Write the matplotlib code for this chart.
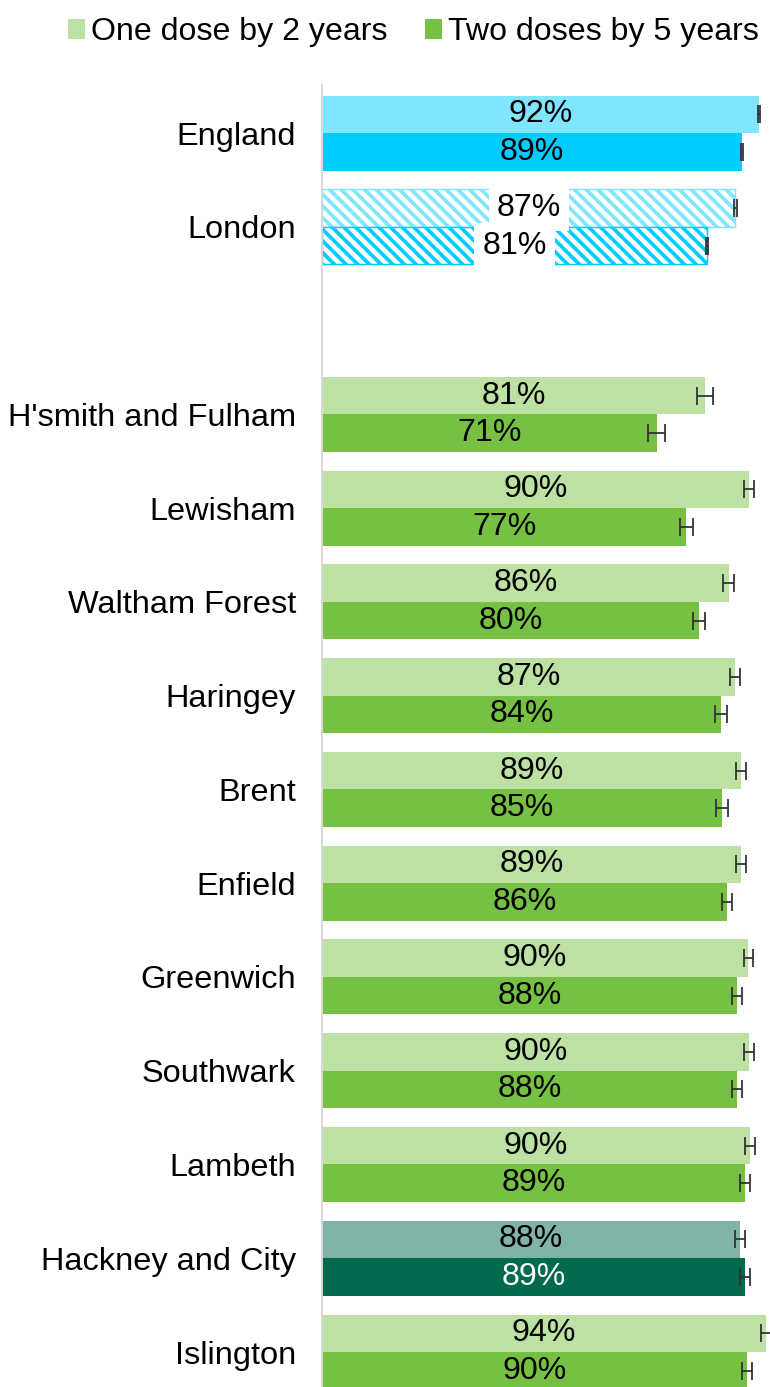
import numpy as np
import matplotlib

matplotlib.use("Agg")
import matplotlib.pyplot as plt
from matplotlib.patches import Patch

plt.rcParams["font.family"] = ["Liberation Sans", "DejaVu Sans"]
plt.rcParams["hatch.linewidth"] = 3.8

areas = [
    "England", "London", "H'smith and Fulham", "Lewisham", "Waltham Forest",
    "Haringey", "Brent", "Enfield", "Greenwich", "Southwark", "Lambeth",
    "Hackney and City", "Islington",
]
one_dose = [92.4, 87.4, 81.0, 90.3, 86.0, 87.4, 88.6, 88.6, 90.1, 90.3, 90.4, 88.4, 93.9]
two_doses = [88.8, 81.4, 70.8, 77.0, 79.7, 84.3, 84.6, 85.6, 87.7, 87.7, 89.4, 89.4, 89.9]
one_err = [0.15, 0.3, 1.7, 1.0, 1.2, 1.05, 1.05, 1.05, 0.95, 1.1, 1.05, 1.1, 1.0]
two_err = [0.15, 0.3, 1.8, 1.4, 1.2, 1.3, 1.25, 1.05, 1.05, 1.1, 1.05, 1.0, 1.0]
series_names = ["One dose by 2 years", "Two doses by 5 years"]

GREEN_LIGHT, GREEN = "#BDE0A3", "#76C043"
BLUE_LIGHT, BLUE = "#80E5FF", "#00CCFF"
TEAL_LIGHT, TEAL = "#80B4A6", "#006A4F"

light_colors = [BLUE_LIGHT, BLUE_LIGHT] + [GREEN_LIGHT] * 9 + [TEAL_LIGHT, GREEN_LIGHT]
dark_colors = [BLUE, BLUE] + [GREEN] * 9 + [TEAL, GREEN]

DPI = 70
FS = 33.0
fig = plt.figure(figsize=(770 / DPI, 1387 / DPI), dpi=DPI)
ax = fig.add_axes([322 / 770, 0, 1 - 322 / 770, 1 - 85 / 1387])

idx = np.arange(len(areas))
pos = idx + (idx >= 2)  # empty slot after London
h = 0.4

for i, p in enumerate(pos):
    hatched = areas[i] == "London"
    for v, off, col in [(one_dose[i], -h / 2, light_colors[i]), (two_doses[i], h / 2, dark_colors[i])]:
        if hatched:
            ax.barh(p + off, v, height=h, color="white", edgecolor=col, hatch="\\\\", linewidth=1.5)
        else:
            ax.barh(p + off, v, height=h, color=col, linewidth=0)
        txt_color = "white" if col == TEAL else "black"
        kw = {}
        if hatched:
            kw["bbox"] = dict(boxstyle="square,pad=0.25", facecolor="white", edgecolor="none")
        ax.text(v / 2, p + off, f"{v:.0f}%", ha="center", va="center", fontsize=FS,
                color=txt_color, zorder=5, **kw)

ax.errorbar(one_dose, pos - h / 2, xerr=one_err, fmt="none", ecolor="#303030",
            elinewidth=1.8, capsize=9, capthick=1.8, zorder=6)
ax.errorbar(two_doses, pos + h / 2, xerr=two_err, fmt="none", ecolor="#303030",
            elinewidth=1.8, capsize=9, capthick=1.8, zorder=6)

ax.set_xlim(0, 448 / 4.73)
ax.set_ylim(13.373, -0.512)
ax.set_yticks(pos)
ax.set_yticklabels(areas, fontsize=FS + 0.4)
ax.tick_params(axis="y", length=0, pad=27)
ax.set_xticks([])
for s in ["top", "right", "bottom"]:
    ax.spines[s].set_visible(False)
ax.spines["left"].set_color("#D9D9D9")
ax.spines["left"].set_linewidth(2)

handles = [Patch(color=GREEN_LIGHT), Patch(color=GREEN)]
fig.legend(handles, series_names, loc="center", bbox_to_anchor=(0.537, 1 - 32 / 1387),
           ncol=2, frameon=False, fontsize=FS, handlelength=0.5, handleheight=0.5,
           handletextpad=0.22, columnspacing=1.15, borderpad=0)

fig.savefig("out.png", dpi=DPI)
